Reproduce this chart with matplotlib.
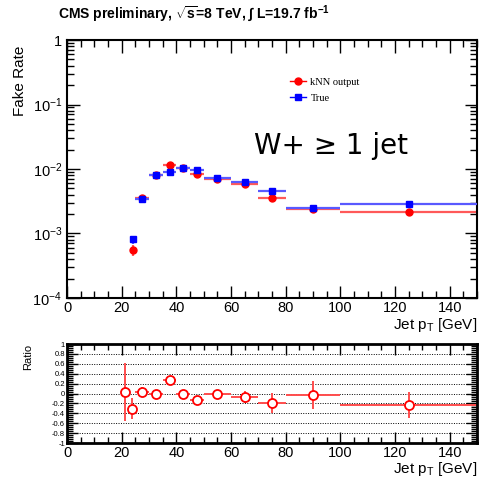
import numpy as np
import matplotlib.pyplot as plt
from matplotlib.ticker import MultipleLocator, FixedLocator, NullFormatter
from matplotlib.lines import Line2D

plt.rcParams['font.family'] = ['Liberation Sans', 'DejaVu Sans']
plt.rcParams['mathtext.fontset'] = 'custom'
plt.rcParams['mathtext.rm'] = 'Liberation Sans'
plt.rcParams['mathtext.default'] = 'regular'

# Fake rate vs jet pT
pt = [24, 27.5, 32.5, 37.5, 42.5, 47.5, 55, 65, 75, 90, 125]
pt_err = [1, 2.5, 2.5, 2.5, 2.5, 2.5, 5, 5, 5, 10, 25]
knn = [5.5e-4, 3.5e-3, 8.0e-3, 1.15e-2, 1.03e-2, 8.4e-3, 7.1e-3, 5.8e-3, 3.5e-3, 2.4e-3, 2.15e-3]
knn_err = [1.1e-4, 2e-4, 3e-4, 5e-4, 4e-4, 4e-4, 3e-4, 3e-4, 3e-4, 2.5e-4, 2.6e-4]
true = [8.1e-4, 3.4e-3, 8.0e-3, 8.9e-3, 1.03e-2, 9.8e-3, 7.2e-3, 6.2e-3, 4.5e-3, 2.46e-3, 2.84e-3]
true_err = [1.2e-4, 1.5e-4, 2.5e-4, 3e-4, 3e-4, 3e-4, 2.5e-4, 2.5e-4, 2.5e-4, 2e-4, 2.5e-4]

# Ratio panel
r_pt = [21.2, 23.8, 27.5, 32.5, 37.5, 42.5, 47.5, 55, 65, 75, 90, 125]
r_pt_err = [0, 0, 2.5, 2.5, 2.5, 2.5, 2.5, 5, 5, 5, 10, 25]
ratio = [0.03, -0.31, 0.03, 0.0, 0.27, 0.0, -0.13, -0.01, -0.07, -0.19, -0.03, -0.23]
ratio_err = [0.58, 0.21, 0.1, 0.06, 0.08, 0.06, 0.08, 0.06, 0.12, 0.21, 0.28, 0.26]

fig = plt.figure(figsize=(4.88, 4.78), dpi=100)
ax = fig.add_axes([0.1373, 0.3766, 0.8402, 0.5397])
ax2 = fig.add_axes([0.1373, 0.0732, 0.8402, 0.2071])

# Top panel
ax.errorbar(pt, true, xerr=pt_err, yerr=true_err, fmt='s', color='blue',
            ecolor=(0.35, 0.35, 1.0), elinewidth=1.6, markersize=5, capsize=0, zorder=3)
ax.errorbar(pt, knn, xerr=pt_err, yerr=knn_err, fmt='o', color='red',
            ecolor=(1.0, 0.35, 0.35), elinewidth=1.6, markersize=5, capsize=0, zorder=2)
ax.set_yscale('log')
ax.set_xlim(0, 150)
ax.set_ylim(1e-4, 1)
ax.set_yticks([1e-4, 1e-3, 1e-2, 1e-1, 1])
ax.set_yticklabels(['$10^{-4}$', '$10^{-3}$', '$10^{-2}$', '$10^{-1}$', '1'])
ax.yaxis.set_minor_locator(FixedLocator([m * 10.0**e for e in range(-4, 0) for m in range(2, 10)]))
ax.yaxis.set_minor_formatter(NullFormatter())
ax.xaxis.set_major_locator(MultipleLocator(20))
ax.xaxis.set_minor_locator(MultipleLocator(5))
ax.tick_params(which='both', direction='in', top=True, right=True, labelsize=10.5)
ax.tick_params(which='major', length=9, width=1)
ax.tick_params(which='minor', length=5, width=1)
ax.tick_params(axis='x', pad=2)
for s in ax.spines.values():
    s.set_linewidth(1.5)
ax.set_ylabel('Fake Rate', fontsize=11)
ax.yaxis.set_label_coords(-0.098, 0.84)
ax.set_xlabel('Jet $p_{T}$ [GeV]', fontsize=11, labelpad=1)
ax.xaxis.set_label_coords(1.0, -0.07)
ax.xaxis.label.set_horizontalalignment('right')

handles = [Line2D([], [], color='red', marker='o', markersize=5, lw=1),
           Line2D([], [], color='blue', marker='s', markersize=5, lw=1)]
ax.legend(handles, ['kNN output', 'True'], loc='upper left', bbox_to_anchor=(0.52, 0.89),
          frameon=False, prop={'family': 'Liberation Serif', 'size': 7.5},
          handlelength=1.6, handletextpad=0.4, labelspacing=0.6)
ax.text(0.644, 0.589, 'W+ \u2265 1 jet', transform=ax.transAxes, fontsize=20,
        ha='center', va='center', family='DejaVu Sans')

fig.text(0.397, 0.971, r'CMS preliminary, $\sqrt{s}$=8 TeV, $\int$ L=19.7 fb$^{-1}$',
         ha='center', va='center', fontsize=10, fontweight='bold')

# Ratio panel
ax2.errorbar(r_pt, ratio, xerr=r_pt_err, yerr=ratio_err, fmt='o', color='red',
             ecolor=(1.0, 0.3, 0.3), elinewidth=1.4, markersize=6.5, mfc='white',
             mec='red', mew=1.3, capsize=0)
ax2.set_xlim(0, 150)
ax2.set_ylim(-1, 1)
ax2.yaxis.set_minor_locator(MultipleLocator(0.04))
ax2.xaxis.set_major_locator(MultipleLocator(20))
ax2.xaxis.set_minor_locator(MultipleLocator(5))
ax2.set_yticks(np.round(np.arange(-1, 1.01, 0.2), 1))
ax2.set_yticklabels(['-1', '-0.8', '-0.6', '-0.4', '-0.2', '0', '0.2', '0.4', '0.6', '0.8', '1'])
ax2.tick_params(which='both', direction='in', top=True, right=True)
ax2.tick_params(axis='y', labelsize=5.5, pad=1.5)
ax2.tick_params(axis='x', labelsize=10.5, pad=2)
ax2.tick_params(which='major', length=8, width=1)
ax2.tick_params(which='minor', length=4, width=1)
for yv in np.arange(-0.8, 0.81, 0.2):
    ax2.axhline(yv, color='black', lw=0.7, ls=(0, (1, 1.5)), zorder=0)
for s in ax2.spines.values():
    s.set_linewidth(2)
ax2.set_ylabel('Ratio', fontsize=8)
ax2.yaxis.set_label_coords(-0.083, 0.87)
ax2.set_xlabel('Jet $p_{T}$ [GeV]', fontsize=11, labelpad=1)
ax2.xaxis.set_label_coords(1.0, -0.17)
ax2.xaxis.label.set_horizontalalignment('right')

fig.savefig('out.png', dpi=100)
